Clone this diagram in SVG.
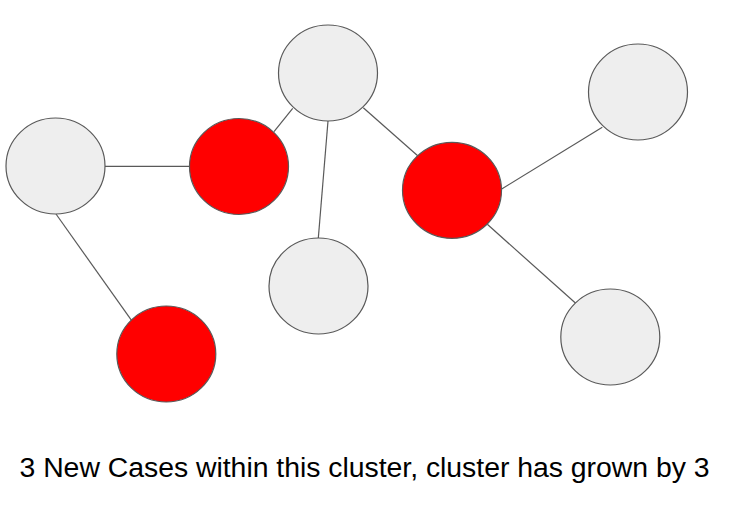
<svg xmlns="http://www.w3.org/2000/svg" width="729" height="507" viewBox="0 0 729 507">
<style>
.node{stroke:#595959;stroke-width:1.2}
.gray{fill:#eeeeee}
.red{fill:#ff0000}
.edge{stroke:#595959;stroke-width:1.2;fill:none}
.label{font-family:"Liberation Sans",Arial,sans-serif;font-size:28.4px;fill:#000}
</style>
<rect width="729" height="507" fill="#ffffff"/>
<g id="connectors">
<line class="edge" x1="105" y1="166.3" x2="189.5" y2="166.3"/>
<line class="edge" x1="274" y1="131.7" x2="292.7" y2="108.3"/>
<line class="edge" x1="328" y1="121" x2="318.3" y2="238.3"/>
<line class="edge" x1="363.3" y1="107.7" x2="417.7" y2="155.7"/>
<line class="edge" x1="501.7" y1="189" x2="602.3" y2="127.3"/>
<line class="edge" x1="487.3" y1="224.3" x2="575.7" y2="303.3"/>
<line class="edge" x1="56" y1="214" x2="131.7" y2="320.7"/>
</g>
<g id="node-a"><ellipse class="node gray" cx="55.5" cy="166" rx="49.5" ry="48"/></g>
<g id="node-b"><ellipse class="node red" cx="239" cy="166.5" rx="49.5" ry="48"/></g>
<g id="node-c"><ellipse class="node gray" cx="328" cy="73" rx="49.5" ry="48"/></g>
<g id="node-d"><ellipse class="node red" cx="452" cy="190.3" rx="49.5" ry="48"/></g>
<g id="node-e"><ellipse class="node gray" cx="318.5" cy="286" rx="49.5" ry="48"/></g>
<g id="node-f"><ellipse class="node gray" cx="638" cy="92" rx="49.5" ry="48"/></g>
<g id="node-g"><ellipse class="node gray" cx="610.3" cy="337" rx="49.5" ry="48"/></g>
<g id="node-h"><ellipse class="node red" cx="166.3" cy="354" rx="49.5" ry="48"/></g>
<text class="label" x="19.5" y="476.5" textLength="690" lengthAdjust="spacing">3 New Cases within this cluster, cluster has grown by 3</text>
</svg>
